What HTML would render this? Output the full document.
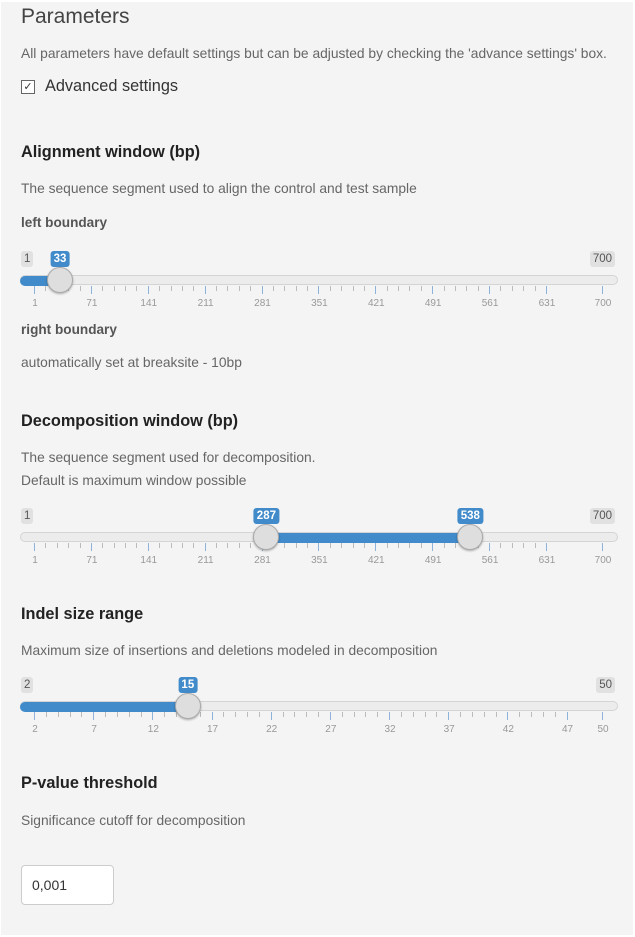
<!DOCTYPE html>
<html><head><meta charset="utf-8">
<style>
html,body{margin:0;padding:0;width:635px;height:937px;overflow:hidden;background:#fff;}
#panel{position:absolute;left:1px;top:2px;width:632px;height:933px;background:#f4f4f4;font-family:"Liberation Sans",sans-serif;color:#333;}
.t{position:absolute;white-space:nowrap;}
.h{font-weight:bold;font-size:16.3px;color:#222;}
.d{font-size:13.8px;color:#666;}
.b{font-weight:bold;font-size:13.6px;color:#555;}
.badge{position:absolute;font-size:11.5px;padding:1px 3px;border-radius:3px;background:#e1e1e1;color:#555;line-height:14px;}
.badge.v{background:#428bca;color:#fff;font-weight:bold;}
.track{position:absolute;left:19px;width:596px;height:8px;border-radius:5px;background:#ececec;border:1px solid #d4d4d4;}
.fill{position:absolute;height:10px;background:#428bca;}
.handle{position:absolute;width:24px;height:24px;border-radius:50%;background:#dedede;border:1px solid #aaa;box-shadow:0 1px 2px rgba(0,0,0,.3);}
.tick{position:absolute;width:1px;background:#bbb;}
.tick.maj{background:#8db3da;}
.tl{position:absolute;font-size:10px;color:#999;transform:translateX(-50%);}
</style></head>
<body>
<div id="panel">
<div class="t" style="left:20px;top:3px;font-size:21px;color:#444;">Parameters</div>
<div class="t d" style="left:20px;top:44px;">All parameters have default settings but can be adjusted by checking the 'advance settings' box.</div>
<div class="t" style="left:20px;top:75px;font-size:16.3px;color:#333;"><span style="display:inline-block;width:12px;height:12px;border:1px solid #666;font-size:11px;line-height:12px;text-align:center;vertical-align:1px;margin-right:10px;background:#fff;">✓</span>Advanced settings</div>

<div class="t h" style="left:20px;top:141px;">Alignment window (bp)</div>
<div class="t d" style="left:20px;top:179px;">The sequence segment used to align the control and test sample</div>
<div class="t b" style="left:20px;top:213px;">left boundary</div>
<div class="t b" style="left:20px;top:320px;">right boundary</div>
<div class="t d" style="left:20px;top:353px;">automatically set at breaksite - 10bp</div>

<div class="t h" style="left:20px;top:410px;">Decomposition window (bp)</div>
<div class="t d" style="left:20px;top:448px;">The sequence segment used for decomposition.</div>
<div class="t d" style="left:20px;top:471px;">Default is maximum window possible</div>

<div class="t h" style="left:20px;top:603px;">Indel size range</div>
<div class="t d" style="left:20px;top:641px;">Maximum size of insertions and deletions modeled in decomposition</div>

<div class="t h" style="left:20px;top:772px;">P-value threshold</div>
<div class="t d" style="left:20px;top:811px;">Significance cutoff for decomposition</div>
<div class="t" style="left:20px;top:863px;width:93px;height:40px;background:#fff;border:1px solid #ccc;border-radius:4px;font-size:14px;line-height:38px;padding-left:10px;box-sizing:border-box;">0,001</div>
</div>
<script>
const s1Ticks=[1,71,141,211,281,351,421,491,561,631,700];
const s1Range=[1,700];
const s1Values=[33];
const s2Ticks=[1,71,141,211,281,351,421,491,561,631,700];
const s2Range=[1,700];
const s2Values=[287,538];
const s3Ticks=[2,7,12,17,22,27,32,37,42,47,50];
const s3Range=[2,50];
const s3Values=[15];
const panel=document.getElementById('panel');
function mk(cls,style,txt){const e=document.createElement('div');e.className=cls;e.style.cssText=style;if(txt!==undefined)e.textContent=txt;panel.appendChild(e);return e;}
function slider(name,top,range,ticks,values){
  const x0=33,x1=601;
  const sx=v=>x0+(v-range[0])/(range[1]-range[0])*(x1-x0);
  let e=mk('badge','left:20px;top:'+(top-29)+'px;',String(range[0]));
  
  
  e=mk('badge','right:18px;top:'+(top-29)+'px;',String(range[1]));
  
  
  e=mk('track','top:'+(top-5)+'px;');
  
  
  const a=values.length>1?sx(values[0]):19;
  const b=sx(values[values.length-1]);
  e=mk('fill','left:'+a+'px;width:'+(b-a)+'px;top:'+(top-4)+'px;border-radius:'+(values.length>1?'0':'5px 0 0 5px')+';');
  
  
  for(let i=0;i<ticks.length;i++){
    const x=sx(ticks[i]);
    e=mk('tick maj','left:'+x+'px;top:'+(top+6)+'px;height:8px;');
    
    
    e=mk('tl','left:'+(x+1)+'px;top:'+(top+18)+'px;',String(ticks[i]));
    
    
    if(i<ticks.length-2){
      const step=(sx(ticks[i+1])-x)/5;
      for(let k=1;k<5;k++){
        e=mk('tick','left:'+(x+step*k)+'px;top:'+(top+6)+'px;height:5px;');
        
        
      }
    }
  }
  values.forEach(v=>{
    const x=sx(v);
    e=mk('handle','left:'+(x-13)+'px;top:'+(top-13)+'px;');
    
    
    e=mk('badge v','left:'+x+'px;top:'+(top-29)+'px;transform:translateX(-50%);',String(v));
    
    
  });
}
slider('left-boundary-slider',278,s1Range,s1Ticks,s1Values);
slider('decomposition-slider',535,s2Range,s2Ticks,s2Values);
slider('indel-size-slider',704,s3Range,s3Ticks,s3Values);
</script>
</body></html>
